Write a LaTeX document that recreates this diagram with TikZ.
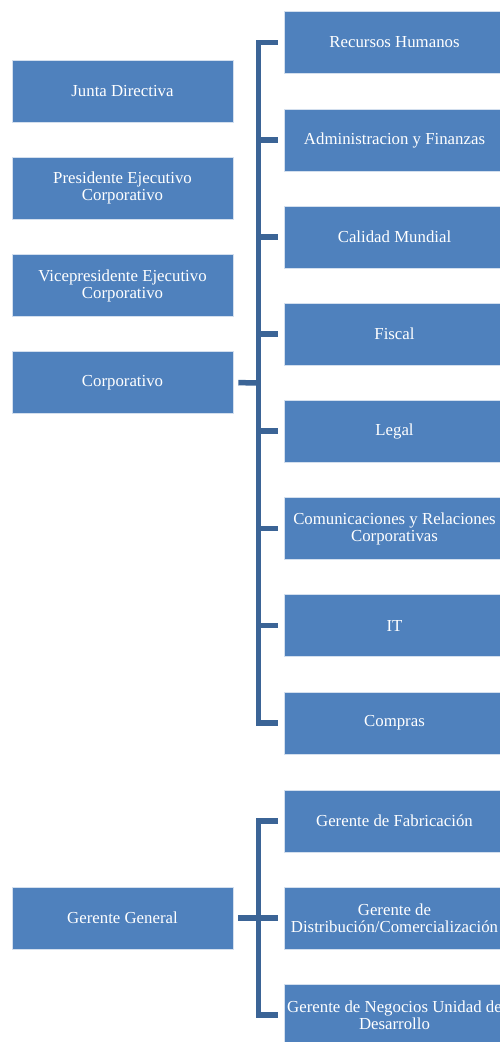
\documentclass[tikz,border=0pt]{standalone}
\usepackage{fontspec}
\setmainfont{Liberation Serif}
\definecolor{boxblue}{HTML}{4F81BD}
\definecolor{lineblue}{HTML}{3B6496}
\begin{document}
\begin{tikzpicture}[x=1pt, y=-1pt,
        unit/.style={fill=boxblue, draw=white!75!boxblue, line width=0.6pt, minimum width=221pt, minimum height=62pt, inner sep=0pt, text=white, align=center, font=\fontsize{16.8}{17}\selectfont},
        link/.style={draw=lineblue, line width=5.5pt}]
        \useasboundingbox (0, 0) rectangle (499, 1042);
        % left column
        \node[unit] (junta) at (122.5, 91) {Junta Directiva};
        \node[unit] (pres) at (122.5, 188) {Presidente Ejecutivo\\Corporativo};
        \node[unit] (vice) at (122.5, 285.5) {Vicepresidente Ejecutivo\\Corporativo};
        \node[unit] (corp) at (122.5, 382.5) {Corporativo};
        \node[unit] (gerente) at (122.5, 918) {Gerente General};
        % right column
        \node[unit] (rh) at (394.5, 42.5) {Recursos Humanos};
        \node[unit] (admin) at (394.5, 140) {Administracion y Finanzas};
        \node[unit] (calidad) at (394.5, 237) {Calidad Mundial};
        \node[unit] (fiscal) at (394.5, 334) {Fiscal};
        \node[unit] (legal) at (394.5, 431) {Legal};
        \node[unit] (comunic) at (394.5, 528.5) {Comunicaciones y Relaciones\\Corporativas};
        \node[unit] (it) at (394.5, 625.5) {IT};
        \node[unit] (compras) at (394.5, 723) {Compras};
        \node[unit] (fabric) at (394.5, 821) {Gerente de Fabricaci\'on};
        \node[unit] (distrib) at (394.5, 918) {Gerente de\\Distribuci\'on/Comercializaci\'on};
        \node[unit] (negocios) at (394.5, 1015) {Gerente de Negocios Unidad de\\Desarrollo};
        % brackets
        \coordinate (spineA) at (258.5, 383);
        \coordinate (spineB) at (258.5, 918);
        \draw[link, shorten <=6pt, shorten >=6pt] (rh.west) -- (spineA |- rh.west) -- (spineA |- compras.west) -- (compras.west);
        \foreach \n in {admin, calidad, fiscal, legal, comunic, it}
            \draw[link, shorten >=6pt] (spineA |- \n.west) -- (\n.west);
        \draw[link, shorten <=5pt] (corp.east) -- (spineA);
        \draw[link, shorten <=6pt, shorten >=6pt] (fabric.west) -- (spineB |- fabric.west) -- (spineB |- negocios.west) -- (negocios.west);
        \draw[link, shorten >=6pt] (spineB) -- (distrib.west);
        \draw[link, shorten <=5pt] (gerente.east) -- (spineB);
    \end{tikzpicture}
\end{document}
